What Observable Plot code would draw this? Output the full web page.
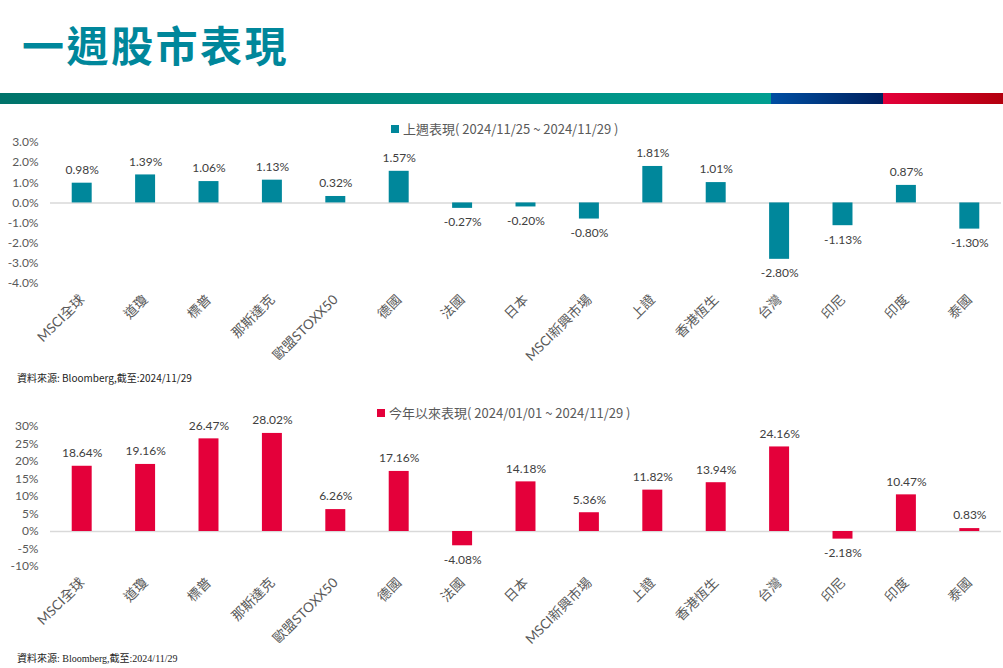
<!DOCTYPE html>
<html>
<head>
<meta charset="utf-8">
<script src="https://cdn.jsdelivr.net/npm/d3@7"></script>
<script src="https://cdn.jsdelivr.net/npm/@observablehq/plot@0.6"></script>
<style>
  html, body { margin: 0; padding: 0; background: #fff; }
  body { width: 1003px; height: 668px; position: relative; overflow: hidden;
         font-family: Lato, "Noto Sans CJK TC", sans-serif; }
  .title { position: absolute; left: 22px; top: 15px; font-size: 42px; font-weight: 700;
           color: #00879b; letter-spacing: 2.5px; font-family: "Noto Sans CJK TC", sans-serif; line-height: 58px; }
  .band { position: absolute; top: 93px; height: 11px; }
  .legend { position: absolute; font-size: 13px; color: #595959; display: flex; align-items: center; white-space: nowrap;
            font-family: "Noto Sans CJK TC", sans-serif; z-index: 2; }
  .legend .sw { width: 8px; height: 8px; margin-right: 4px; }
  .note { position: absolute; left: 17px; font-size: 10px; color: #222; white-space: nowrap; }
  .chart { position: absolute; left: 0; z-index: 1; }
</style>
</head>
<body>
<div class="title">一週股市表現</div>
<div class="band" style="left:0;width:771px;background:linear-gradient(90deg,#00736a,#009e90);"></div>
<div class="band" style="left:771px;width:112px;background:linear-gradient(90deg,#004ea2,#00215e);"></div>
<div class="band" style="left:883px;width:120px;background:linear-gradient(90deg,#e4003a,#b3000e);"></div>

<div class="chart" id="c1" style="top:120px;"></div>
<div class="legend" style="left:391px;top:119px;"><div class="sw" style="background:#00879b"></div><span id="leg1"></span></div>
<div class="note" style="top:370px;font-family:'Noto Sans CJK TC',sans-serif;">資料來源: Bloomberg,截至:2024/11/29</div>

<div class="chart" id="c2" style="top:404px;"></div>
<div class="legend" style="left:377px;top:403px;"><div class="sw" style="background:#e4003a"></div><span id="leg2"></span></div>
<div class="note" style="top:650px;font-family:'Liberation Serif','Noto Sans CJK TC',serif;">資料來源: Bloomberg,截至:2024/11/29</div>

<script>
// ---- data ----
const markets = ["MSCI全球","道瓊","標普","那斯達克","歐盟STOXX50","德國","法國","日本","MSCI新興市場","上證","香港恆生","台灣","印尼","印度","泰國"];
const weekReturns = [0.98,1.39,1.06,1.13,0.32,1.57,-0.27,-0.20,-0.80,1.81,1.01,-2.80,-1.13,0.87,-1.30];
const ytdReturns = [18.64,19.16,26.47,28.02,6.26,17.16,-4.08,14.18,5.36,11.82,13.94,24.16,-2.18,10.47,0.83];
const weekTicks = [-4,-3,-2,-1,0,1,2,3];
const ytdTicks = [-10,-5,0,5,10,15,20,25,30];
const weekLegend = "上週表現( 2024/11/25 ~ 2024/11/29 )";
const ytdLegend = "今年以來表現( 2024/01/01 ~ 2024/11/29 )";

document.getElementById("leg1").textContent = weekLegend;
document.getElementById("leg2").textContent = ytdLegend;

const fmtVal = v => v.toFixed(2) + "%";

function chart(values, ticks, color, tickFmt, height, marginTop, marginBottom) {
  const data = markets.map((m, i) => ({market: m, value: values[i]}));
  return Plot.plot({
    width: 1003,
    height,
    marginTop,
    marginLeft: 50,
    marginRight: 2,
    marginBottom,
    style: {fontFamily: 'Lato, "Noto Sans CJK TC", sans-serif', fontSize: "12px", color: "#595959", background: "transparent"},
    x: {domain: markets, paddingInner: 0.685, paddingOuter: 0.3425, round: false, label: null},
    y: {domain: [ticks[0], ticks[ticks.length - 1]], label: null},
    marks: [
      Plot.ruleY([0], {stroke: "#d9d9d9", strokeWidth: 1.5}),
      Plot.barY(data, {x: "market", y: "value", fill: color}),
      Plot.text(data.filter(d => d.value >= 0), {x: "market", y: "value", text: d => fmtVal(d.value), dy: -13, fill: "#404040", fontSize: 12}),
      Plot.text(data.filter(d => d.value < 0), {x: "market", y: "value", text: d => fmtVal(d.value), dy: 14, fill: "#404040", fontSize: 12}),
      Plot.axisY({ticks, tickSize: 0, tickPadding: 12, tickFormat: tickFmt, fill: "#595959", fontSize: 12}),
      Plot.axisX({tickSize: 0, tickPadding: 14, tickRotate: -45, fill: "#595959", fontSize: 13.5, label: null})
    ]
  });
}

// top: y(3) at page 142, y(-4) at page 283; svg top 120
document.getElementById("c1").append(chart(weekReturns, weekTicks, "#00879b", d => d.toFixed(1) + "%", 250, 22, 87));
// bottom: y(30) at page 426, y(-10) at page 566; svg top 404
document.getElementById("c2").append(chart(ytdReturns, ytdTicks, "#e4003a", d => d + "%", 245, 22, 83));
</script>
</body>
</html>
